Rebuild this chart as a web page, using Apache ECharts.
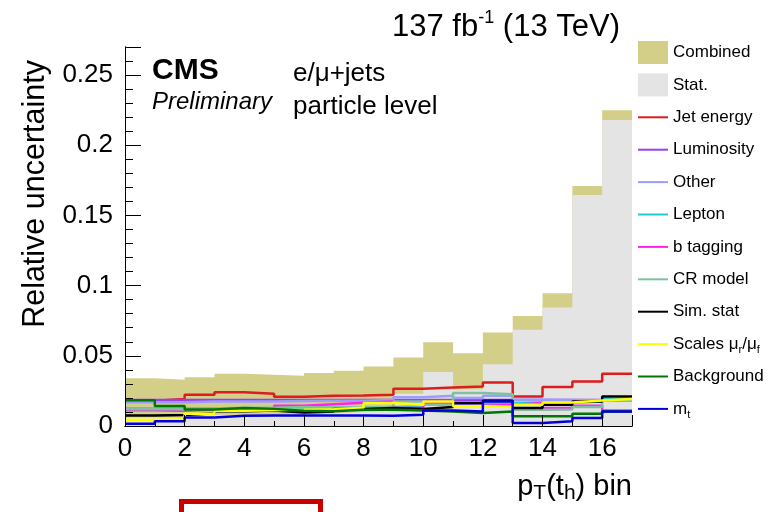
<!DOCTYPE html>
<html><head><meta charset="utf-8">
<script src="https://cdn.jsdelivr.net/npm/echarts@6/dist/echarts.min.js"></script>
<style>html,body{margin:0;padding:0;background:#fff}#c{width:779px;height:512px}</style>
</head><body><div id="c"></div>
<script>
// ---- data (17 bins of pT(th)) ----
const binEdgesMax = 17;
const xTicks = [0, 2, 4, 6, 8, 10, 12, 14, 16];
const yTicks = [0, 0.05, 0.1, 0.15, 0.2, 0.25];
const combined   = [0.0341,0.0330,0.0348,0.0372,0.0365,0.0358,0.0377,0.0393,0.0424,0.0488,0.0597,0.0519,0.0666,0.0784,0.0946,0.1710,0.2250];
const stat       = [0.0060,0.0060,0.0080,0.0080,0.0080,0.0080,0.0090,0.0100,0.0110,0.0230,0.0384,0.0260,0.0440,0.0685,0.0844,0.1645,0.2180];
const jetEnergy  = [0.0180,0.0192,0.0223,0.0240,0.0230,0.0208,0.0216,0.0218,0.0222,0.0265,0.0275,0.0282,0.0310,0.0210,0.0277,0.0317,0.0372];
const luminosity = [0.0185,0.0185,0.0185,0.0185,0.0185,0.0185,0.0185,0.0185,0.0185,0.0185,0.0185,0.0185,0.0185,0.0185,0.0185,0.0185,0.0185];
const other      = [0.0170,0.0170,0.0175,0.0175,0.0175,0.0178,0.0180,0.0180,0.0185,0.0204,0.0216,0.0199,0.0216,0.0187,0.0185,0.0182,0.0185];
const lepton     = [0.0125,0.0125,0.0125,0.0125,0.0125,0.0128,0.0130,0.0130,0.0135,0.0140,0.0155,0.0145,0.0160,0.0168,0.0165,0.0175,0.0190];
const bTagging   = [0.0113,0.0108,0.0118,0.0122,0.0125,0.0145,0.0155,0.0165,0.0175,0.0128,0.0163,0.0145,0.0150,0.0164,0.0128,0.0144,0.0111];
const crModel    = [0.0120,0.0120,0.0125,0.0130,0.0130,0.0135,0.0130,0.0130,0.0135,0.0175,0.0152,0.0235,0.0227,0.0116,0.0118,0.0135,0.0180];
const simStat    = [0.0075,0.0078,0.0090,0.0105,0.0111,0.0097,0.0104,0.0121,0.0128,0.0121,0.0135,0.0163,0.0180,0.0128,0.0152,0.0175,0.0210];
const scales     = [0.0045,0.0048,0.0088,0.0109,0.0112,0.0115,0.0120,0.0130,0.0163,0.0152,0.0175,0.0140,0.0137,0.0152,0.0168,0.0182,0.0192];
const background = [0.0183,0.0142,0.0118,0.0128,0.0122,0.0108,0.0105,0.0115,0.0116,0.0110,0.0104,0.0092,0.0104,0.0069,0.0069,0.0087,0.0104];
const topMass    = [0.0016,0.0033,0.0060,0.0073,0.0074,0.0074,0.0074,0.0074,0.0073,0.0080,0.0110,0.0104,0.0175,0.0021,0.0033,0.0057,0.0104];

const FONT = 'Liberation Sans, Arial, Helvetica, sans-serif';

function steps(vals) {
  const d = vals.map((v, i) => [i, v]);
  d.push([vals.length, vals[vals.length - 1]]);
  return d;
}

const lineDefs = [
  ['Jet energy', jetEnergy, '#dd1c1c'],
  ['Luminosity', luminosity, '#9b3df0'],
  ['Other', other, '#9c9cff'],
  ['Lepton', lepton, '#22cccc'],
  ['b tagging', bTagging, '#ff22ee'],
  ['CR model', crModel, '#80c0a0'],
  ['Sim. stat', simStat, '#000000'],
  ['Scales μr/μf', scales, '#ffff00'],
  ['Background', background, '#007700'],
  ['mt', topMass, '#0000dd']
];

const series = [
  { name: 'Combined', type: 'line', step: 'end', data: steps(combined), symbol: 'none',
    lineStyle: { width: 0 }, itemStyle: { color: '#d4cf88' }, areaStyle: { color: '#d4cf88', opacity: 1 }, z: 2 },
  { name: 'Stat.', type: 'line', step: 'end', data: steps(stat), symbol: 'none',
    lineStyle: { width: 0 }, itemStyle: { color: '#e4e4e4' }, areaStyle: { color: '#e4e4e4', opacity: 1 }, z: 3 }
];
lineDefs.forEach((d, i) => {
  series.push({ name: d[0], type: 'line', step: 'end', data: steps(d[1]), symbol: 'none',
    lineStyle: { width: 2.5, color: d[2] }, itemStyle: { color: d[2] }, z: 4 + i });
});

const legendLabels = {
  'Scales μr/μf': '{n|Scales μ}{s|r}{n|/μ}{s|f}',
  'mt': '{n|m}{s|t}'
};

const axisCommon = { splitLine: { show: false }, z: 20 };

const option = {
  animation: false,
  backgroundColor: '#fff',
  grid: { left: 125, top: 47, width: 507, height: 379, show: false },
  xAxis: [
    Object.assign({ type: 'value', position: 'bottom', min: 0, max: binEdgesMax, interval: 2,
      axisLine: { lineStyle: { color: '#000', width: 1 } },
      axisTick: { inside: true, length: 11, lineStyle: { color: '#000', width: 1 } },
      axisLabel: { fontSize: 26, color: '#000', fontFamily: FONT, margin: 10,
        formatter: v => (xTicks.indexOf(v) >= 0 ? String(v) : '') } }, axisCommon),
    Object.assign({ type: 'value', position: 'bottom', min: 0, max: binEdgesMax, interval: 1,
      axisLine: { show: false },
      axisTick: { inside: true, length: 5, lineStyle: { color: '#000', width: 1 } },
      axisLabel: { show: false } }, axisCommon),
    Object.assign({ type: 'value', position: 'top', min: 0, max: binEdgesMax,
      axisLine: { lineStyle: { color: '#000', width: 1 } },
      axisTick: { show: false }, axisLabel: { show: false } }, axisCommon)
  ],
  yAxis: [
    Object.assign({ type: 'value', position: 'left', min: 0, max: 0.27, interval: 0.05,
      axisLine: { lineStyle: { color: '#000', width: 1 } },
      axisTick: { inside: true, length: 16, lineStyle: { color: '#000', width: 1 } },
      axisLabel: { fontSize: 26, color: '#000', fontFamily: FONT, margin: 12,
        formatter: v => { const t = yTicks.find(y => Math.abs(y - v) < 1e-9); return t === undefined ? '' : String(t); } } }, axisCommon),
    Object.assign({ type: 'value', position: 'left', min: 0, max: 0.27, interval: 0.01,
      axisLine: { show: false },
      axisTick: { inside: true, length: 8, lineStyle: { color: '#000', width: 1 } },
      axisLabel: { show: false } }, axisCommon),
    Object.assign({ type: 'value', position: 'right', min: 0, max: 0.27,
      axisLine: { show: true, lineStyle: { color: '#000', width: 1 } },
      axisTick: { show: false }, axisLabel: { show: false } }, axisCommon)
  ],
  legend: {
    orient: 'vertical', left: 637, top: 41, padding: 0, itemWidth: 30, itemHeight: 23, itemGap: 9.4,
    selectedMode: false,
    textStyle: { fontSize: 17, color: '#000', fontFamily: FONT, lineHeight: 23,
      rich: {
        n: { fontSize: 17, fontFamily: FONT, color: '#000', lineHeight: 23 },
        s: { fontSize: 11, fontFamily: FONT, color: '#000', lineHeight: 8, verticalAlign: 'bottom' }
      } },
    formatter: name => legendLabels[name] || name,
    data: [
      { name: 'Combined', icon: 'rect', itemStyle: { color: '#d4cf88', borderWidth: 0 } },
      { name: 'Stat.', icon: 'rect', itemStyle: { color: '#e4e4e4', borderWidth: 0 } }
    ].concat(lineDefs.map(d => ({ name: d[0], itemStyle: { opacity: 0 } })))
  },
  graphic: [
    { type: 'text', x: 620, y: 27, style: { text: '{n|137 fb}{p|-1}{n| (13 TeV)}', align: 'right', verticalAlign: 'middle',
      rich: { n: { fontSize: 31, fontFamily: FONT, fill: '#000', lineHeight: 36 },
              p: { fontSize: 18, fontFamily: FONT, fill: '#000', lineHeight: 15, verticalAlign: 'top' } } } },
    { type: 'text', x: 152, y: 71, style: { text: 'CMS', font: 'bold 30px ' + FONT, fill: '#000', verticalAlign: 'middle' } },
    { type: 'text', x: 152, y: 102, style: { text: 'Preliminary', font: 'italic 24px ' + FONT, fill: '#000', verticalAlign: 'middle' } },
    { type: 'text', x: 293, y: 74, style: { text: 'e/μ+jets', font: '26px ' + FONT, fill: '#000', verticalAlign: 'middle' } },
    { type: 'text', x: 293, y: 107, style: { text: 'particle level', font: '26px ' + FONT, fill: '#000', verticalAlign: 'middle' } },
    { type: 'text', x: 36, y: 60, rotation: Math.PI / 2, style: { text: 'Relative uncertainty', font: '30.5px ' + FONT, fill: '#000', align: 'right', verticalAlign: 'middle' } },
    { type: 'text', x: 632, y: 487, style: { text: '{n|p}{s|T}{n|(t}{s|h}{n|) bin}', align: 'right', verticalAlign: 'middle',
      rich: { n: { fontSize: 29, fontFamily: FONT, fill: '#000', lineHeight: 34 },
              s: { fontSize: 21, fontFamily: FONT, fill: '#000', lineHeight: 12, verticalAlign: 'bottom' } } } },
    { type: 'rect', shape: { x: 181.5, y: 501.5, width: 139, height: 20 }, style: { fill: '#fff', stroke: '#c80000', lineWidth: 5 } }
  ],
  series: series
};

const chart = echarts.init(document.getElementById('c'), null, { renderer: 'canvas' });
chart.setOption(option);
</script>
</body></html>
